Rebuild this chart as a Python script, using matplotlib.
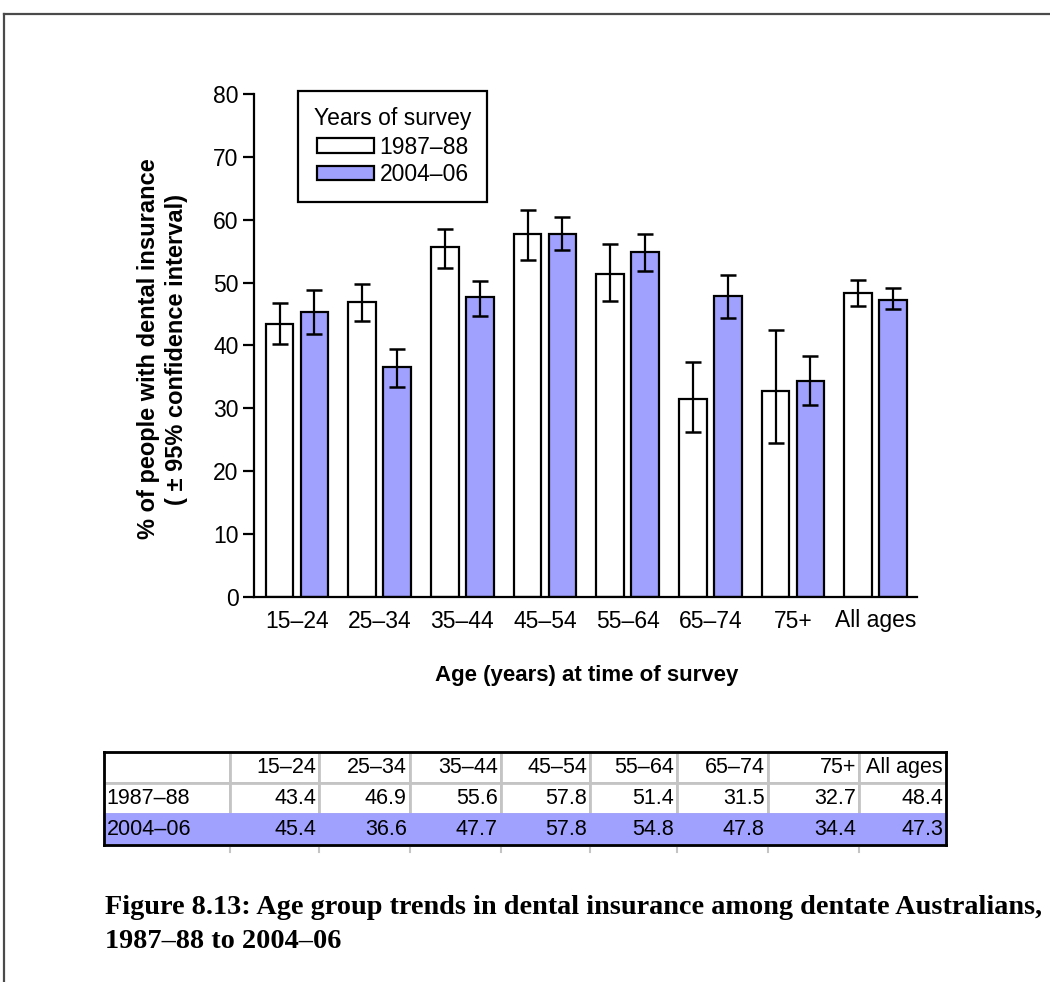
import numpy as np
import matplotlib
matplotlib.use("Agg")
import matplotlib.pyplot as plt
from matplotlib.lines import Line2D

# ---- data -------------------------------------------------------------
age_groups = ["15–24", "25–34", "35–44", "45–54", "55–64", "65–74", "75+", "All ages"]
survey_years = ["1987–88", "2004–06"]

pct_1987 = [43.4, 46.9, 55.6, 57.8, 51.4, 31.5, 32.7, 48.4]
pct_2004 = [45.4, 36.6, 47.7, 57.8, 54.8, 47.8, 34.4, 47.3]

ci_low_1987 = [40.2, 43.9, 52.4, 53.6, 47.1, 26.2, 24.5, 46.3]
ci_high_1987 = [46.7, 49.8, 58.5, 61.5, 56.2, 37.3, 42.5, 50.4]
ci_low_2004 = [41.9, 33.4, 44.7, 55.2, 51.8, 44.3, 30.5, 45.8]
ci_high_2004 = [48.8, 39.5, 50.3, 60.5, 57.7, 51.2, 38.4, 49.1]

y_ticks = [0, 10, 20, 30, 40, 50, 60, 70, 80]

# ---- style ------------------------------------------------------------
BLUE = "#a0a0ff"
plt.rcParams["font.family"] = ["Liberation Sans", "DejaVu Sans"]

W, H = 1050, 982
fig = plt.figure(figsize=(W / 100, H / 100), dpi=100)


def fx(px):
    return px / W


def fy(py):
    return 1 - py / H


# page frame (top and left rules)
fig.add_artist(Line2D([fx(4), 1.0], [fy(14), fy(14)], color="#4a4a4a", lw=1.6))
fig.add_artist(Line2D([fx(4), fx(4)], [fy(14), 0.0], color="#4a4a4a", lw=1.6))

# ---- bar chart --------------------------------------------------------
ax = fig.add_axes([fx(254), fy(597), fx(917) - fx(254), fy(94) - fy(597)])

x = np.arange(len(age_groups))
bar_w = 0.335
offset = 0.21

p87 = np.array(pct_1987)
p04 = np.array(pct_2004)
err87 = [p87 - np.array(ci_low_1987), np.array(ci_high_1987) - p87]
err04 = [p04 - np.array(ci_low_2004), np.array(ci_high_2004) - p04]

ax.bar(x - offset, p87, bar_w, color="white", edgecolor="black", linewidth=1.6,
       label=survey_years[0], zorder=2)
ax.bar(x + offset, p04, bar_w, color=BLUE, edgecolor="black", linewidth=1.6,
       label=survey_years[1], zorder=2)
ax.errorbar(x - offset, p87, yerr=err87, fmt="none", ecolor="black",
            elinewidth=1.6, capsize=6, capthick=1.8, zorder=3)
ax.errorbar(x + offset, p04, yerr=err04, fmt="none", ecolor="black",
            elinewidth=1.6, capsize=6, capthick=1.8, zorder=3)

ax.set_xlim(-0.52, 7.5)
ax.set_ylim(0, 80)
ax.set_yticks(y_ticks)
ax.set_xticks(x, age_groups)
for side in ("top", "right"):
    ax.spines[side].set_visible(False)
for side in ("left", "bottom"):
    ax.spines[side].set_linewidth(1.6)
ax.tick_params(axis="x", length=0, pad=9, labelsize=16.5)
ax.tick_params(axis="y", length=8, width=1.6, pad=3, labelsize=16.5)

ax.set_ylabel("% of people with dental insurance\n( ± 95% confidence interval)",
              fontsize=17, fontweight="bold", linespacing=1.25)
ax.yaxis.set_label_coords(-0.1, 0.493)

fig.text(fx(587), fy(676), "Age (years) at time of survey", ha="center", va="center",
         fontsize=16, fontweight="bold")

leg = ax.legend(title="Years of survey", loc="upper left",
                bbox_to_anchor=(fx(298), fy(91)), bbox_transform=fig.transFigure,
                borderaxespad=0, fontsize=16.5, title_fontsize=16.5,
                frameon=True, fancybox=False, edgecolor="black",
                handlelength=2.5, handleheight=0.6, handletextpad=0.25,
                labelspacing=0.2, borderpad=0.7)
leg.get_frame().set_linewidth(1.6)
leg.get_frame().set_alpha(None)
leg.get_frame().set_facecolor("white")
leg._legend_box.sep = 4

# ---- data table -------------------------------------------------------
tab_ax = fig.add_axes([fx(104), fy(845), fx(946) - fx(104), fy(752) - fy(845)])
tab_ax.set_xticks([])
tab_ax.set_yticks([])
for sp in tab_ax.spines.values():
    sp.set_linewidth(2.0)
    sp.set_color("black")
    sp.set_zorder(5)

col_widths = np.array([126, 89, 91, 91, 89, 87, 91, 91, 87], dtype=float)
col_widths = col_widths / col_widths.sum()

cell_text = [[""] + age_groups,
             [survey_years[0]] + [f"{v:.1f}" for v in pct_1987],
             [survey_years[1]] + [f"{v:.1f}" for v in pct_2004]]

table = tab_ax.table(cellText=cell_text, colWidths=list(col_widths),
                     cellLoc="right", bbox=[0, 0, 1, 1])
table.auto_set_font_size(False)
table.set_fontsize(15.5)
table.set_zorder(1)
for (r, c), cell in table.get_celld().items():
    cell.PAD = 0.035
    cell.set_linewidth(2.0)
    if r == 2:
        cell.set_facecolor(BLUE)
        cell.set_edgecolor(BLUE)
    else:
        cell.set_facecolor("white")
        cell.set_edgecolor("#c4c4c4")
    if c == 0:
        cell._loc = "left"
        cell.get_text().set_horizontalalignment("left")
        cell.PAD = 0.02

# small column rules dropping below the table
bounds = np.cumsum(col_widths)[:-1]
for b in bounds:
    tab_ax.plot([b, b], [-0.07, 0], color="#c4c4c4", lw=1.5,
                transform=tab_ax.transAxes, clip_on=False)

# ---- caption ----------------------------------------------------------
cap_kw = dict(family=["Liberation Serif", "DejaVu Serif"], fontweight="bold",
              fontsize=20.3, ha="left", va="baseline")
fig.text(fx(105), fy(914),
         "Figure 8.13: Age group trends in dental insurance among dentate Australians,",
         **cap_kw)
fig.text(fx(105), fy(948), "1987–88 to 2004–06", **cap_kw)

fig.savefig("out.png", dpi=100)
